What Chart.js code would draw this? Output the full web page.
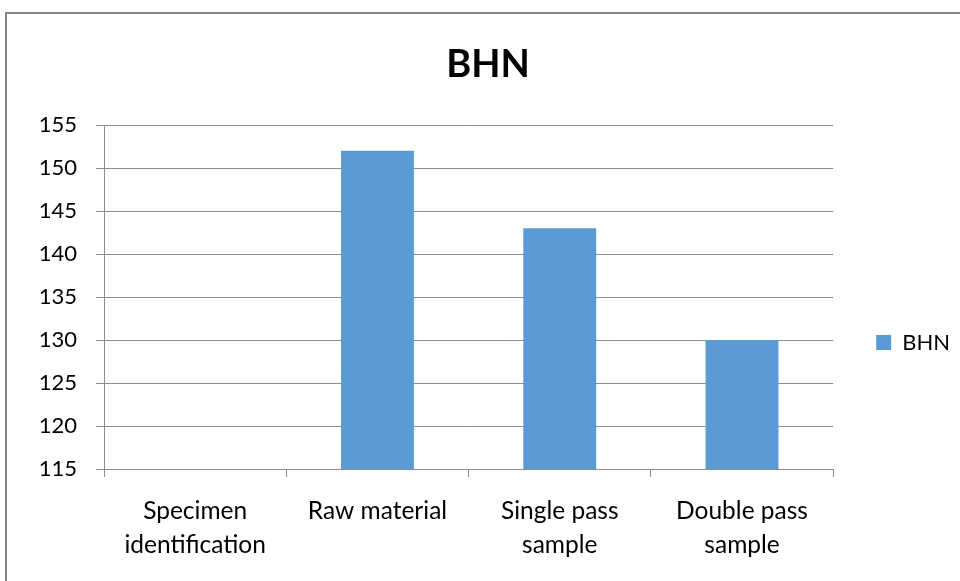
<!DOCTYPE html>
<html>
<head>
<meta charset="utf-8">
<script src="https://cdn.jsdelivr.net/npm/chart.js@4"></script>
<style>
  html, body { margin: 0; padding: 0; background: #ffffff; }
  #wrap { width: 960px; height: 581px; position: relative; }
</style>
</head>
<body>
<div id="wrap"><canvas id="c" width="960" height="581"></canvas></div>
<script>
// Brinell hardness by specimen
const categories = [
  ['Specimen', 'identification'],
  'Raw material',
  ['Single pass', 'sample'],
  ['Double pass', 'sample']
];
const bhnValues = [null, 152, 143, 130];
const seriesName = 'BHN';
const chartTitle = 'BHN';
const yMin = 115;
const yMax = 155;
const yStep = 5;

const gridGray = '#8c8c8c';
const barBlue = '#5b9bd5';
const textFont = 'Lato';

// white page with the frame line along the top and left
const framePlugin = {
  id: 'frame',
  beforeDraw(chart) {
    const ctx = chart.ctx;
    ctx.save();
    ctx.fillStyle = '#ffffff';
    ctx.fillRect(0, 0, chart.width, chart.height);
    ctx.strokeStyle = '#868686';
    ctx.lineWidth = 2;
    ctx.strokeRect(6, 13, 2000, 2000);
    ctx.restore();
  }
};

new Chart(document.getElementById('c'), {
  type: 'bar',
  data: {
    labels: categories,
    datasets: [{
      label: seriesName,
      data: bhnValues,
      backgroundColor: barBlue,
      borderWidth: 0,
      barPercentage: 0.4,
      categoryPercentage: 1.0
    }]
  },
  plugins: [framePlugin],
  options: {
    responsive: false,
    animation: false,
    devicePixelRatio: 1,
    layout: { padding: { left: 16, right: 0, top: 0, bottom: 0 } },
    font: { family: textFont },
    plugins: {
      title: {
        display: true,
        text: chartTitle,
        color: '#000000',
        font: { family: textFont, size: 38, weight: 'bold', lineHeight: 1.2 },
        padding: { top: 42, bottom: 37.4 }
      },
      legend: {
        display: true,
        position: 'right',
        title: {
          display: true,
          text: '',
          font: { size: 10, lineHeight: 1 },
          padding: { top: 94, bottom: 0 }
        },
        labels: {
          boxWidth: 15,
          boxHeight: 15,
          padding: 43,
          color: '#000000',
          font: { family: textFont, size: 22 }
        }
      },
      tooltip: { enabled: false }
    },
    scales: {
      x: {
        offset: true,
        grid: {
          display: true,
          offset: true,
          drawOnChartArea: false,
          drawTicks: true,
          tickLength: 8,
          color: gridGray
        },
        border: { display: true, color: gridGray },
        ticks: {
          color: '#000000',
          padding: 18,
          maxRotation: 0,
          autoSkip: false,
          font: { family: textFont, size: 24.5, lineHeight: 1.35 }
        },
        afterFit(scale) { scale.height = 112; }
      },
      y: {
        min: yMin,
        max: yMax,
        grid: {
          color: gridGray,
          drawTicks: true,
          tickLength: 8
        },
        border: { display: true, color: gridGray },
        ticks: {
          stepSize: yStep,
          color: '#000000',
          padding: 19,
          font: { family: textFont, size: 22 }
        },
        afterFit(scale) { scale.width = 88; }
      }
    }
  }
});
</script>
</body>
</html>
